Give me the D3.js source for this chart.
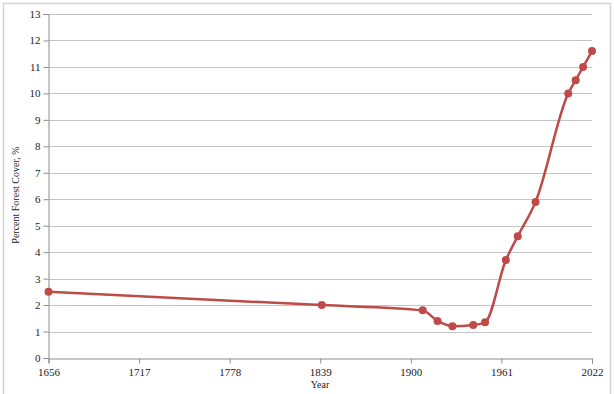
<!DOCTYPE html>
<html>
<head>
<meta charset="utf-8">
<script src="https://cdn.jsdelivr.net/npm/d3@7"></script>
<style>
  body { margin: 0; background: #fff; }
  svg text { font-family: "Liberation Serif", "DejaVu Serif", serif; fill: #222; }
</style>
</head>
<body>
<div id="chart"></div>
<script>
// data
const years = [1656, 1840, 1908, 1918, 1928, 1942, 1950, 1964, 1972, 1984, 2006, 2011, 2016, 2022];
const forestCover = [2.5, 2.0, 1.8, 1.4, 1.2, 1.25, 1.35, 3.7, 4.6, 5.9, 10.0, 10.5, 11.0, 11.6];
const yearTicks = [1656, 1717, 1778, 1839, 1900, 1961, 2022];
const coverTicks = d3.range(0, 14);

const width = 614, height = 394;
const lineColor = '#be4b48';

const svg = d3.select('#chart').append('svg')
    .attr('width', width).attr('height', height);

// outer frame (left, top, right)
svg.append('path')
    .attr('d', 'M3.5,394 V3.5 H610.5 V394')
    .attr('fill', 'none').attr('stroke', '#d4d4d4').attr('stroke-width', 1.5);

const x = d3.scaleLinear().domain([1656, 2022]).range([48.5, 592]);
const y = d3.scaleLinear().domain([0, 13]).range([358, 14]);

// horizontal gridlines
svg.append('g').selectAll('line')
    .data(coverTicks.filter(d => d > 0))
    .join('line')
    .attr('x1', x(1656)).attr('x2', x(2022))
    .attr('y1', d => Math.round(y(d)) + 0.5).attr('y2', d => Math.round(y(d)) + 0.5)
    .attr('stroke', '#c4c4c4').attr('stroke-width', 1);

// axes
const xAxis = svg.append('g')
    .attr('transform', `translate(0,${Math.round(y(0)) + 0.5})`)
    .call(d3.axisBottom(x).tickValues(yearTicks).tickFormat(d3.format('d')).tickSizeOuter(0).tickSize(5));
const yAxis = svg.append('g')
    .attr('transform', `translate(${x(1656)},0)`)
    .call(d3.axisLeft(y).tickValues(coverTicks).tickSizeOuter(0).tickSize(5));

[xAxis, yAxis].forEach(g => {
    g.select('.domain').attr('stroke', '#8c8c8c');
    g.selectAll('.tick line').attr('stroke', '#8c8c8c');
    g.selectAll('.tick text')
        .style('font-family', '"Liberation Serif", serif')
        .style('font-size', '11px').attr('fill', '#222');
});
xAxis.selectAll('.tick text').attr('y', 10);
yAxis.selectAll('.tick text').attr('x', -8);

// axis titles
svg.append('text')
    .attr('x', 320).attr('y', 388)
    .attr('text-anchor', 'middle')
    .style('font-size', '10px')
    .text('Year');
svg.append('text')
    .attr('transform', `translate(19,195) rotate(-90)`)
    .attr('text-anchor', 'middle')
    .style('font-size', '10px')
    .text('Percent Forest Cover, %');

// series
const points = years.map((yr, i) => ({ year: yr, value: forestCover[i] }));
const line = d3.line()
    .x(d => x(d.year)).y(d => y(d.value))
    .curve(d3.curveMonotoneX);

svg.append('path')
    .datum(points)
    .attr('d', line)
    .attr('fill', 'none')
    .attr('stroke', lineColor)
    .attr('stroke-width', 2.5)
    .attr('stroke-linejoin', 'round');

svg.append('g').selectAll('circle')
    .data(points)
    .join('circle')
    .attr('cx', d => x(d.year)).attr('cy', d => y(d.value))
    .attr('r', 4)
    .attr('fill', lineColor);
</script>
</body>
</html>
